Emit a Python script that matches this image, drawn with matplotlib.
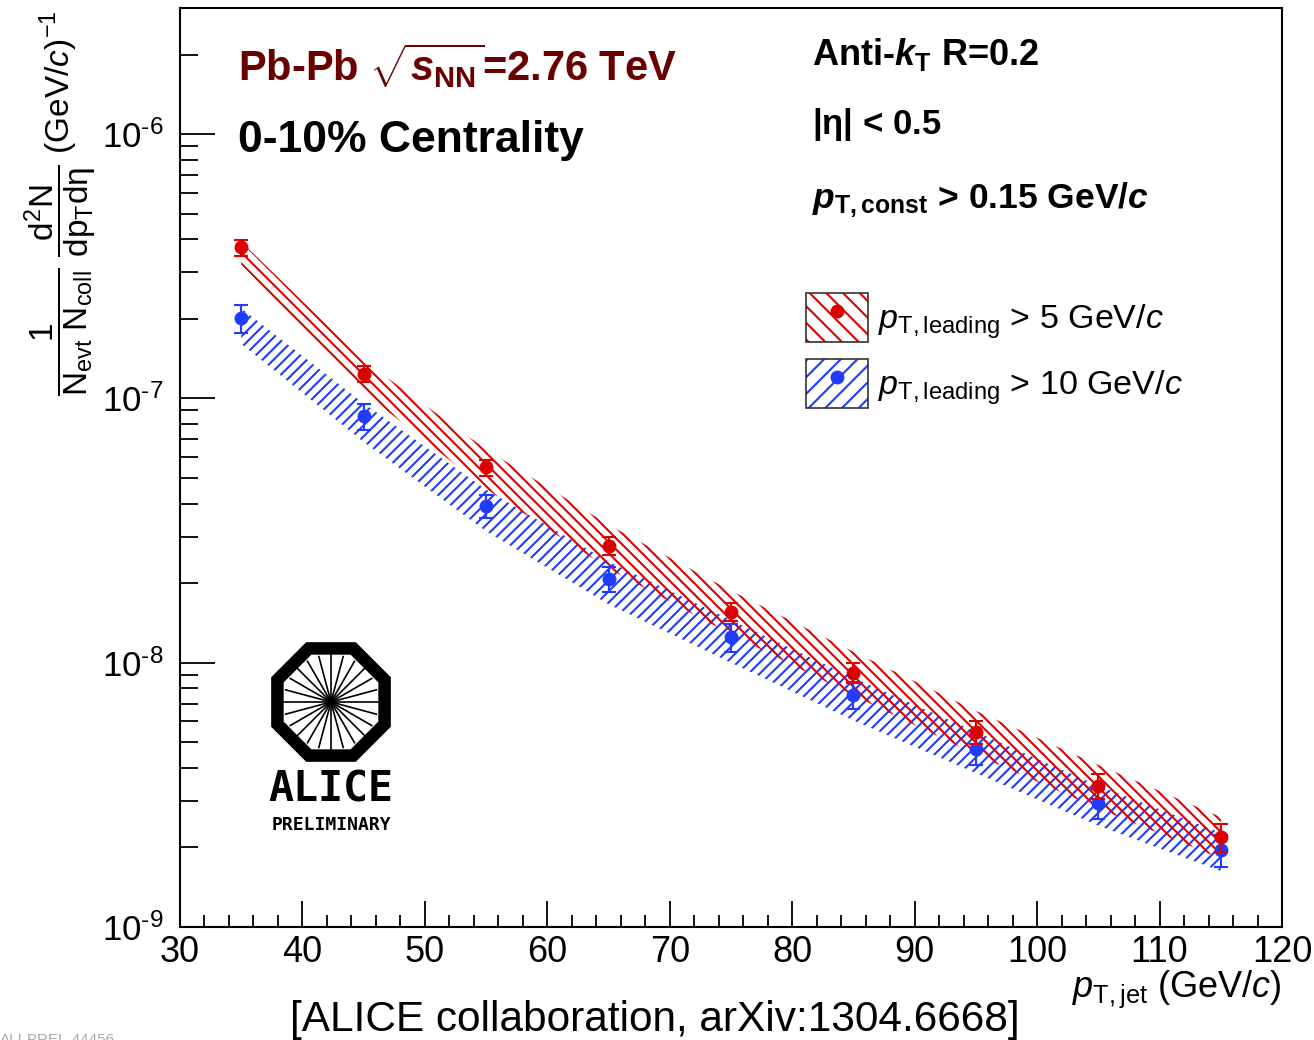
import matplotlib
matplotlib.use("Agg")
import matplotlib.pyplot as plt
import numpy as np
from matplotlib.patches import Patch, RegularPolygon
from matplotlib.lines import Line2D
from matplotlib.legend_handler import HandlerTuple
from matplotlib.ticker import MultipleLocator, LogLocator, NullFormatter, FuncFormatter

plt.rcParams['font.family'] = ['Liberation Sans', 'DejaVu Sans']
plt.rcParams['mathtext.fontset'] = 'custom'
plt.rcParams['mathtext.rm'] = 'Liberation Sans'
plt.rcParams['mathtext.it'] = 'Liberation Sans:italic'
plt.rcParams['mathtext.bf'] = 'Liberation Sans:bold'
plt.rcParams['mathtext.bfit'] = 'Liberation Sans:bold:italic'
plt.rcParams['hatch.linewidth'] = 1.5

# data: jet pT bin centres and per-event yields
pt = [35, 45, 55, 65, 75, 85, 95, 105, 115]
yield_5 = [3.73e-7, 1.24e-7, 5.48e-8, 2.77e-8, 1.56e-8, 9.17e-9, 5.48e-9, 3.42e-9, 2.19e-9]
yield_10 = [2.01e-7, 8.55e-8, 3.93e-8, 2.08e-8, 1.25e-8, 7.56e-9, 4.72e-9, 2.95e-9, 1.96e-9]
# relative statistical errors
stat_5 = [0.07, 0.07, 0.07, 0.08, 0.08, 0.09, 0.10, 0.11, 0.12]
stat_10 = [0.12, 0.11, 0.10, 0.11, 0.12, 0.12, 0.13, 0.13, 0.14]
# relative systematic band (up, down)
sys5_up = [0.05, 0.12, 0.17, 0.20, 0.20, 0.20, 0.20, 0.20, 0.19]
sys5_dn = [0.14, 0.15, 0.17, 0.18, 0.18, 0.18, 0.18, 0.18, 0.17]
sys10_up = [0.09, 0.12, 0.15, 0.16, 0.16, 0.16, 0.16, 0.16, 0.16]
sys10_dn = [0.20, 0.20, 0.20, 0.20, 0.20, 0.20, 0.19, 0.18, 0.17]

red = '#dd0000'
blue = '#1f3cff'

fig = plt.figure(figsize=(13.14, 10.4), dpi=100)
ax = fig.add_axes([180/1314, 1-927/1040, 1102/1314, 919/1040])

x = np.array(pt)
y5 = np.array(yield_5)
y10 = np.array(yield_10)

ax.fill_between(x, y10*(1-np.array(sys10_dn)), y10*(1+np.array(sys10_up)),
                facecolor='none', edgecolor=blue, hatch='///', linewidth=0, zorder=2)
ax.fill_between(x, y5*(1-np.array(sys5_dn)), y5*(1+np.array(sys5_up)),
                facecolor='none', edgecolor=red, hatch='\\\\\\', linewidth=0, zorder=3)

ax.errorbar(x, y10, yerr=y10*np.array(stat_10), fmt='o', color=blue, ms=9,
            elinewidth=1.5, capsize=5, capthick=1.5, zorder=4)
ax.errorbar(x, y5, yerr=y5*np.array(stat_5), fmt='o', color=red, ms=9,
            elinewidth=1.5, capsize=5, capthick=1.5, zorder=5)

ax.set_xlim(30, 120)
ax.set_yscale('log')
ax.set_ylim(1e-9, 3e-6)
ax.xaxis.set_major_locator(MultipleLocator(10))
ax.xaxis.set_minor_locator(MultipleLocator(2))
ax.yaxis.set_major_locator(LogLocator(base=10))
ax.yaxis.set_major_formatter(FuncFormatter(lambda v, p: r"$10^{\text{-}%d}$" % round(-np.log10(v))))
ax.yaxis.set_minor_locator(LogLocator(base=10, subs=np.arange(2, 10)))
ax.yaxis.set_minor_formatter(NullFormatter())
ax.tick_params(axis='x', which='major', direction='in', length=19, width=1.3,
               labelsize=26, pad=6, top=False)
ax.tick_params(axis='x', which='minor', direction='in', length=9, width=1.3, top=False)
ax.tick_params(axis='y', which='major', direction='in', length=25, width=1.3,
               labelsize=25, pad=12, right=False)
ax.tick_params(axis='y', which='minor', direction='in', length=13, width=1.3, right=False)
for s in ax.spines.values():
    s.set_linewidth(1.5)

# axis titles
ax.text(1.0, -0.076, r"$p_{\rm T,jet}$ (GeV/$c$)", transform=ax.transAxes,
        ha='right', va='baseline', fontsize=26)
fig.text(0.046, 0.99,
         r"$\dfrac{1}{\rm N_{evt}\ N_{coll}}\ \dfrac{\rm d^2N}{{\rm d}p_{\rm T}{\rm d}\eta}$ (GeV/$c$)$^{-1}$",
         rotation=90, ha='center', va='top', fontsize=24)

# labels
ax.text(0.0526, 0.937, r"Pb-Pb $\sqrt{\mathbfit{s}_{\mathbf{NN}}}$=2.76 TeV", transform=ax.transAxes,
        color='#6b0000', fontsize=30, fontweight='bold', ha='left', va='center')
ax.text(0.0526, 0.856, "0-10% Centrality", transform=ax.transAxes,
        color='black', fontsize=32, fontweight='bold', ha='left', va='center')
ax.text(0.5735, 0.949, r"Anti-$\mathbfit{k}_{\mathbf{T}}$ R=0.2", transform=ax.transAxes,
        fontsize=26, fontweight='bold', ha='left', va='center')
ax.text(0.5735, 0.873, r"|$\mathbf{\eta}$| < 0.5", transform=ax.transAxes,
        fontsize=25, fontweight='bold', ha='left', va='center')
ax.text(0.5735, 0.791, r"$\mathbfit{p}_{\mathbf{T,const}}$ > 0.15 GeV/$\mathbfit{c}$", transform=ax.transAxes,
        fontsize=25.5, fontweight='bold', ha='left', va='center')

# legend
h5 = (Patch(facecolor='white', edgecolor=red, hatch='\\\\', linewidth=0),
      Patch(facecolor='none', edgecolor='#333333', linewidth=1.2),
      Line2D([], [], marker='o', color=red, ls='none', ms=9))
h10 = (Patch(facecolor='white', edgecolor=blue, hatch='//', linewidth=0),
       Patch(facecolor='none', edgecolor='#333333', linewidth=1.2),
       Line2D([], [], marker='o', color=blue, ls='none', ms=9))
ax.legend([h5, h10],
          [r"$p_{\rm T,leading}$ > 5 GeV/$c$", r"$p_{\rm T,leading}$ > 10 GeV/$c$"],
          handler_map={tuple: HandlerTuple(ndivide=1, pad=0)},
          loc='upper left', bbox_to_anchor=(0.568, 0.690), frameon=False,
          fontsize=24.5, handlelength=1.82, handleheight=1.84, handletextpad=0.3,
          labelspacing=0.5, borderpad=0, borderaxespad=0)

# ALICE preliminary logo
lax = fig.add_axes([255/1314, 1-845/1040, 150/1314, 215/1040])
lax.set_xlim(0, 150)
lax.set_ylim(215, 0)
lax.axis('off')
cx, cy = 76, 72
lax.add_patch(RegularPolygon((cx, cy), 8, radius=58, orientation=np.pi/8,
                             facecolor='none', edgecolor='black', linewidth=9))
ang = np.arange(0, 360, 15) * np.pi / 180
for a in ang:
    lax.plot([cx, cx + 47*np.cos(a)], [cy, cy + 47*np.sin(a)], color='black', lw=1.2)
lax.text(cx, 160, "ALICE", ha='center', va='center', fontsize=30, fontweight='bold',
         family='DejaVu Sans Mono')
lax.text(cx, 195, "PRELIMINARY", ha='center', va='center', fontsize=13, fontweight='bold',
         family='DejaVu Sans Mono')

fig.text(655/1314, 1-1020/1040, "[ALICE collaboration, arXiv:1304.6668]",
         ha='center', va='center', fontsize=30.5)
fig.text(0.0, 0.0, "ALI-PREL-44456", ha='left', va='center', fontsize=11, color='#aaaaaa')

fig.savefig('out.png', dpi=100)
